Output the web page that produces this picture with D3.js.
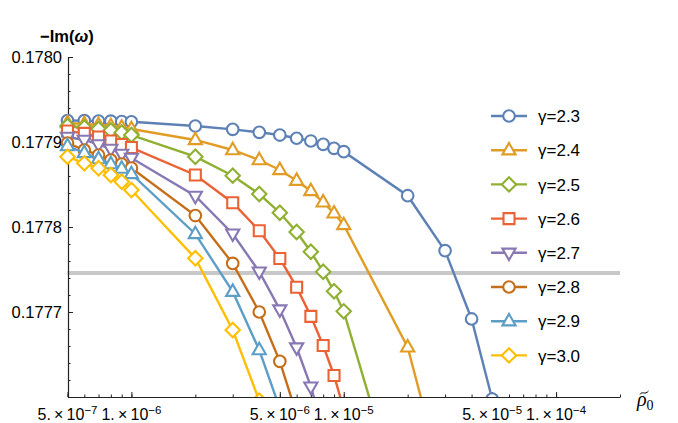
<!DOCTYPE html>
<html>
<head>
<meta charset="utf-8">
<script src="https://cdn.jsdelivr.net/npm/d3@7"></script>
<style>
body { margin: 0; background: white; }
text { font-family: "Liberation Sans", Arial, sans-serif; fill: #000; }
</style>
</head>
<body>
<script>
// rho_0 values shared by every curve (each curve uses the first n of them)
var rho = [5e-7, 6e-7, 7e-7, 8e-7, 9e-7, 1e-6, 2e-6, 3e-6, 4e-6, 5e-6, 6e-6, 7e-6, 8e-6, 9e-6, 1e-5, 2e-5, 3e-5, 4e-5, 5e-5]

var gammas = ["2.3", "2.4", "2.5", "2.6", "2.7", "2.8", "2.9", "3.0"]

var im23 = [0.1779253, 0.1779251, 0.1779247, 0.1779245, 0.1779241, 0.1779238, 0.1779188, 0.1779149, 0.1779114, 0.1779082, 0.1779044, 0.1779012, 0.1778973, 0.1778926, 0.1778886, 0.1778368, 0.1777721, 0.1776918, 0.1775976]
var im24 = [0.1779224, 0.1779212, 0.1779200, 0.1779188, 0.1779171, 0.1779153, 0.1779024, 0.1778906, 0.1778788, 0.1778671, 0.1778545, 0.1778424, 0.1778291, 0.1778161, 0.1778024, 0.1776585, 0.1774918]
var im25 = [0.1779188, 0.1779171, 0.1779153, 0.1779135, 0.1779112, 0.1779082, 0.1778827, 0.1778604, 0.1778388, 0.1778168, 0.1777941, 0.1777709, 0.1777474, 0.1777244, 0.1777008, 0.1774471]
var im26 = [0.1779129, 0.1779102, 0.1779059, 0.1779012, 0.1778971, 0.1778935, 0.1778612, 0.1778286, 0.1777956, 0.1777629, 0.1777292, 0.1776949, 0.1776606, 0.1776253, 0.1775856]
var im27 = [0.1779059, 0.1779024, 0.1778971, 0.1778918, 0.1778859, 0.1778812, 0.1778365, 0.1777921, 0.1777474, 0.1777029, 0.1776582, 0.1776121, 0.1775612]
var im28 = [0.1778988, 0.1778906, 0.1778847, 0.1778788, 0.1778741, 0.1778694, 0.1778135, 0.1777571, 0.1777000, 0.1776420, 0.1775792]
var im29 = [0.1778953, 0.1778871, 0.1778800, 0.1778741, 0.1778688, 0.1778624, 0.1777918, 0.1777239, 0.1776553, 0.1775865]
var im30 = [0.1778827, 0.1778749, 0.1778691, 0.1778612, 0.1778533, 0.1778435, 0.1777632, 0.1776788, 0.1775958]

var series = [im23, im24, im25, im26, im27, im28, im29, im30]
var colors = ["#5e81b5", "#e19c24", "#8fb032", "#eb6235", "#8778b3", "#c56e1a", "#5d9ec7", "#ffbf00"]
var shapes = ["circle", "triangle", "diamond", "square", "triangleDown", "circle", "triangle", "diamond"]

var yMajor = [0.1777, 0.1778, 0.1779, 0.1780]
var xLabels = [[5, 7], [1, 6], [5, 6], [1, 5], [5, 5], [1, 4]]
var refLine = 0.177746

var w = 678
var h = 423

function markerPath(shape) {
	var p = d3.path()
	if (shape == "circle") {
		p.arc(0, 0, 5.8, 0, 2 * Math.PI)
	} else if (shape == "triangle") {
		p.moveTo(0, -7.3); p.lineTo(6.6, 4.2); p.lineTo(-6.6, 4.2); p.closePath()
	} else if (shape == "triangleDown") {
		p.moveTo(0, 7.3); p.lineTo(6.6, -4.2); p.lineTo(-6.6, -4.2); p.closePath()
	} else if (shape == "diamond") {
		p.moveTo(0, -7.2); p.lineTo(7.2, 0); p.lineTo(0, 7.2); p.lineTo(-7.2, 0); p.closePath()
	} else {
		p.rect(-5.5, -5.5, 11, 11)
	}
	return p.toString()
}

function main() {
	var svg = d3.select("body")
		.append("svg")
		.attr("width", w)
		.attr("height", h)

	var xScale = d3.scaleLog()
		.domain([5e-7, 2e-4])
		.range([67.5, 620])

	var yScale = d3.scaleLinear()
		.domain([0.1776, 0.1780])
		.range([397, 57])

	svg.append("defs").append("clipPath")
		.attr("id", "clip")
		.append("rect")
		.attr("x", 0).attr("y", 0)
		.attr("width", w).attr("height", 397)

	// reference line
	svg.append("line")
		.attr("x1", xScale(5e-7)).attr("x2", xScale(2e-4))
		.attr("y1", yScale(refLine)).attr("y2", yScale(refLine))
		.attr("stroke", "#c8c8c8")
		.attr("stroke-width", 4)

	// axes
	var minorX = []
	for (var e = -7; e <= -4; e++) {
		for (var m = 1; m <= 9; m++) {
			var v = m * Math.pow(10, e)
			if (v >= 5e-7 && v <= 2e-4) minorX.push(v)
		}
	}
	var majorX = xLabels.map((d) => d[0] * Math.pow(10, -d[1]))

	svg.append("g")
		.attr("transform", "translate(0," + 397 + ")")
		.call(d3.axisBottom(xScale).tickValues(minorX).tickSize(-2.5).tickFormat("").tickSizeOuter(0))
		.call((g) => g.selectAll("line").attr("stroke", "#222"))
		.call((g) => g.select(".domain").attr("stroke", "#222").attr("stroke-width", 1.2))

	svg.append("g")
		.attr("transform", "translate(0," + 397 + ")")
		.call(d3.axisBottom(xScale).tickValues(majorX).tickSize(-5).tickFormat("").tickSizeOuter(0))
		.call((g) => g.selectAll("line").attr("stroke", "#222"))
		.call((g) => g.select(".domain").remove())

	var minorY = d3.range(0, 21).map((i) => 0.1776 + i * 0.00002)
	svg.append("g")
		.attr("transform", "translate(" + 68 + ",0)")
		.call(d3.axisLeft(yScale).tickValues(minorY).tickSize(-2.5).tickFormat("").tickSizeOuter(0))
		.call((g) => g.selectAll("line").attr("stroke", "#222"))
		.call((g) => g.select(".domain").attr("stroke", "#222").attr("stroke-width", 1.2))

	svg.append("g")
		.attr("transform", "translate(" + 68 + ",0)")
		.call(d3.axisLeft(yScale).tickValues(yMajor).tickSize(-5).tickFormat("").tickSizeOuter(0))
		.call((g) => g.selectAll("line").attr("stroke", "#222"))
		.call((g) => g.select(".domain").remove())

	svg.append("g")
		.selectAll("text")
		.data(yMajor)
		.enter()
		.append("text")
		.attr("x", 62)
		.attr("y", (d) => yScale(d))
		.attr("dy", "0.36em")
		.attr("text-anchor", "end")
		.style("font-size", "16.5px")
		.text((d) => d.toFixed(4))

	var xl = svg.append("g")
		.selectAll("text")
		.data(xLabels)
		.enter()
		.append("text")
		.attr("x", (d) => xScale(d[0] * Math.pow(10, -d[1])))
		.attr("y", 420)
		.attr("text-anchor", "middle")
		.style("font-size", "16px")
	xl.append("tspan").text((d) => d[0] + ".\u2009\u00d7\u200910")
	xl.append("tspan")
		.attr("dy", -6.5)
		.style("font-size", "11.5px")
		.text((d) => "\u2212" + d[1])

	// axis labels
	var yl = svg.append("text")
		.attr("x", 40)
		.attr("y", 42)
		.style("font-size", "16.5px")
		.style("font-weight", "bold")
	yl.append("tspan").text("\u2212Im(")
	yl.append("tspan").style("font-style", "italic").text("\u03c9")
	yl.append("tspan").text(")")

	// rho tilde sub 0, the tilde drawn as a small curve
	var serif = "'Liberation Serif', 'DejaVu Serif', serif"
	var xlab = svg.append("text")
		.attr("x", 637)
		.attr("y", 406)
		.style("font-family", serif)
		.style("font-size", "20px")
	xlab.append("tspan").style("font-style", "italic").text("\u03c1")
	xlab.append("tspan").attr("dy", 4).style("font-size", "14px").text("0")

	var tilde = d3.path()
	tilde.moveTo(640, 394.5)
	tilde.bezierCurveTo(642, 390.5, 645, 395.5, 648.5, 391)
	svg.append("path")
		.attr("d", tilde.toString())
		.attr("fill", "none")
		.attr("stroke", "#000")
		.attr("stroke-width", 1)

	// curves
	var line = d3.line()
		.x((d) => xScale(d[0]))
		.y((d) => yScale(d[1]))

	var plot = svg.append("g").attr("clip-path", "url(#clip)")

	series.forEach((vals, i) => {
		var pts = vals.map((v, j) => [rho[j], v])
		plot.append("path")
			.datum(pts)
			.attr("d", line)
			.attr("fill", "none")
			.attr("stroke", colors[i])
			.attr("stroke-width", 2.4)
		plot.selectAll(".m" + i)
			.data(pts)
			.enter()
			.append("path")
			.attr("class", "m" + i)
			.attr("transform", (d) => "translate(" + xScale(d[0]) + "," + yScale(d[1]) + ")")
			.attr("d", markerPath(shapes[i]))
			.attr("fill", "white")
			.attr("stroke", colors[i])
			.attr("stroke-width", 2.1)
	})

	// legend
	var legend = svg.append("g")
	gammas.forEach((g, i) => {
		var ly = 116 + i * 34.2
		legend.append("line")
			.attr("x1", 491).attr("x2", 527)
			.attr("y1", ly).attr("y2", ly)
			.attr("stroke", colors[i])
			.attr("stroke-width", 2.4)
		legend.append("path")
			.attr("transform", "translate(509," + ly + ")")
			.attr("d", markerPath(shapes[i]))
			.attr("fill", "white")
			.attr("stroke", colors[i])
			.attr("stroke-width", 2.1)
		legend.append("text")
			.attr("x", 538)
			.attr("y", ly)
			.attr("dy", "0.36em")
			.style("font-size", "17px")
			.text("\u03b3=" + g)
	})
}

main()
</script>
</body>
</html>
